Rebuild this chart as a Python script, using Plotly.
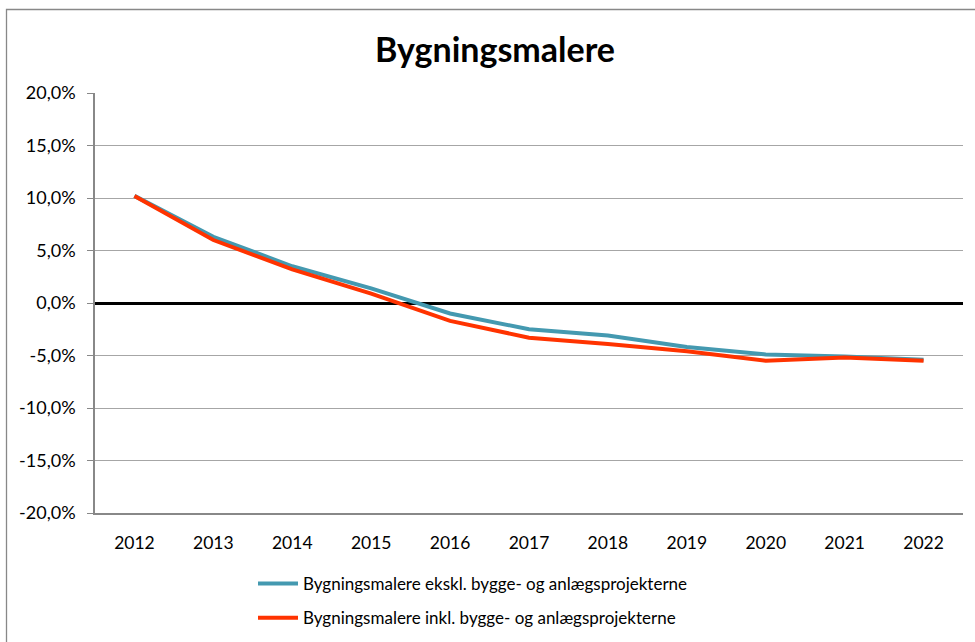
import plotly.graph_objects as go

years = ["2012", "2013", "2014", "2015", "2016", "2017", "2018", "2019", "2020", "2021", "2022"]
ekskl = [10.2, 6.3, 3.5, 1.4, -1.0, -2.5, -3.1, -4.2, -4.9, -5.1, -5.4]
inkl = [10.2, 6.0, 3.2, 0.9, -1.7, -3.3, -3.9, -4.6, -5.5, -5.2, -5.5]
name_ekskl = "Bygningsmalere ekskl. bygge- og anlægsprojekterne"
name_inkl = "Bygningsmalere inkl. bygge- og anlægsprojekterne"
title = "Bygningsmalere"
ytick_vals = [-20, -15, -10, -5, 0, 5, 10, 15, 20]
ytick_text = ["-20,0%", "-15,0%", "-10,0%", "-5,0%", "0,0%", "5,0%", "10,0%", "15,0%", "20,0%"]

FONT = "Lato"
W, H = 975, 642
L, R, T, B = 95, 12, 93, 129
PW, PH = W - L - R, H - T - B

fig = go.Figure()
fig.add_trace(go.Scatter(x=years, y=ekskl, mode="lines", name=name_ekskl, legendgroup="a",
                         line=dict(color="#4499B0", width=4)))
fig.add_trace(go.Scatter(x=years, y=inkl, mode="lines", name=name_inkl, legendgroup="b",
                         line=dict(color="#FF3300", width=4)))

fig.update_layout(
    width=W, height=H,
    margin=dict(l=L, r=R, t=T, b=B, autoexpand=False),
    paper_bgcolor="white", plot_bgcolor="white",
    font=dict(family=FONT, size=17, color="black"),
    title=dict(text="<b>" + title + "</b>", x=495 / W, xanchor="center", y=1 - 50 / H, yanchor="middle",
               font=dict(family=FONT, size=34, color="black")),
    showlegend=True,
    legend=dict(orientation="v", x=(253 - L) / PW, xanchor="left", y=-(566 - (T + PH)) / PH, yanchor="top",
                font=dict(family=FONT, size=17, color="black"), traceorder="grouped",
                bgcolor="rgba(0,0,0,0)", tracegroupgap=9, itemwidth=40),
    xaxis=dict(type="category", range=[-0.5, 10.5], showgrid=False,
               showline=True, linecolor="#888888", linewidth=1.5,
               ticks="", tickfont=dict(family=FONT, size=17.5), ticklabelstandoff=13, zeroline=False),
    yaxis=dict(range=[-20, 20], tickvals=ytick_vals, ticktext=ytick_text,
               showgrid=True, gridcolor="#A6A6A6", gridwidth=1.3,
               showline=True, linecolor="#888888", linewidth=1.5,
               ticks="outside", ticklen=6, tickcolor="#888888", tickwidth=1.3,
               tickfont=dict(family=FONT, size=18), ticklabelstandoff=8,
               zeroline=True, zerolinecolor="black", zerolinewidth=2.5),
)

fig.add_shape(type="rect", xref="paper", yref="paper",
              x0=(6.5 - L) / PW, x1=(990 - L) / PW,
              y0=-(660 - (T + PH)) / PH, y1=1 + (T - 9.5) / PH,
              line=dict(color="#888888", width=1.3), fillcolor="rgba(0,0,0,0)", layer="below")

fig.write_html("out.html", config={"displayModeBar": False},
               post_script="document.body.style.margin='0';document.body.style.overflow='hidden';")
